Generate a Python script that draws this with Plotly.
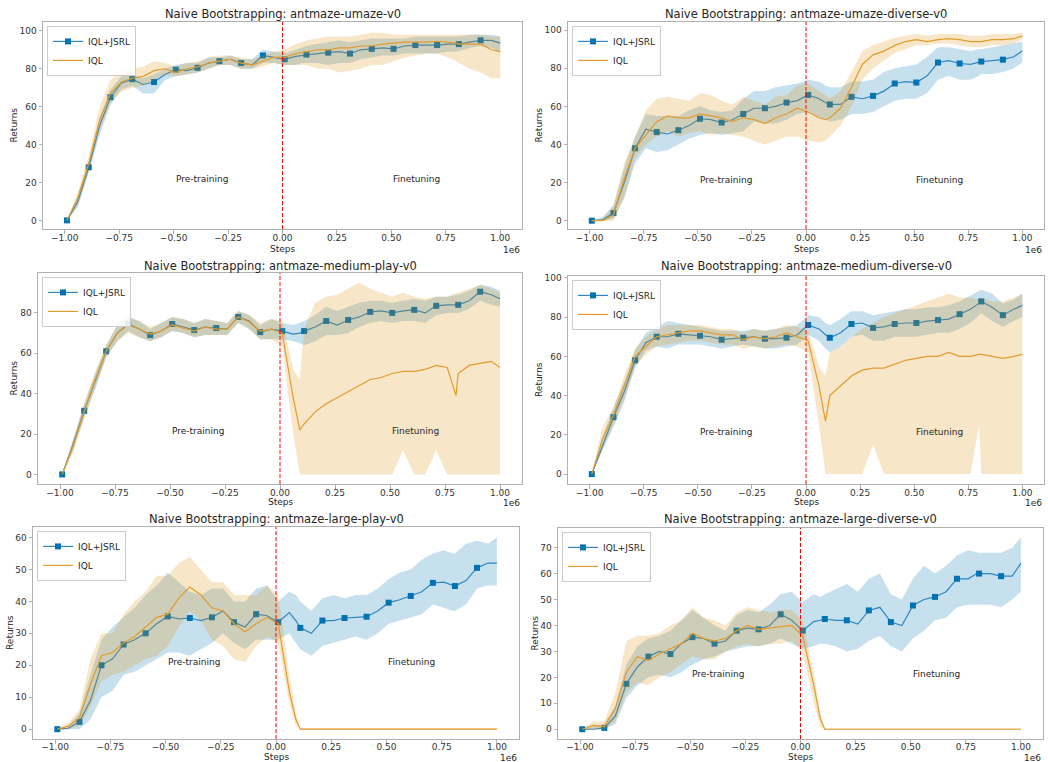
import plotly.graph_objects as go

# ---------------- data ----------------
STEPS = [-0.99, -0.94, -0.89, -0.84, -0.79, -0.74, -0.69, -0.64, -0.59, -0.54,
         -0.49, -0.44, -0.39, -0.34, -0.29, -0.24, -0.19, -0.14, -0.09, -0.04,
         0.01, 0.06, 0.09, 0.11, 0.16, 0.21, 0.26, 0.31, 0.36, 0.41,
         0.46, 0.51, 0.56, 0.61, 0.66, 0.71, 0.76, 0.80, 0.81, 0.86,
         0.91, 0.96, 1.00]

X_TICKS = [-1.0, -0.75, -0.5, -0.25, 0.0, 0.25, 0.5, 0.75, 1.0]
X_TICK_TEXT = ["−1.00", "−0.75", "−0.50", "−0.25", "0.00", "0.25", "0.50", "0.75", "1.00"]

TITLES = ["Naive Bootstrapping: antmaze-umaze-v0",
          "Naive Bootstrapping: antmaze-umaze-diverse-v0",
          "Naive Bootstrapping: antmaze-medium-play-v0",
          "Naive Bootstrapping: antmaze-medium-diverse-v0",
          "Naive Bootstrapping: antmaze-large-play-v0",
          "Naive Bootstrapping: antmaze-large-diverse-v0"]
SERIES = ["IQL+JSRL", "IQL"]
PHASES = ["Pre-training", "Finetuning"]
PHASE_X = [-0.5, 0.5]
PHASE_Y = 20
SWITCH_STEP = 0.0

# umaze
UMAZE_JSRL_MEAN = [0, 10, 28, 50, 65, 72.5, 74.5, 71.7, 73, 77, 79.5, 79, 80.5, 83, 84, 85, 83, 82, 87, 86,
                   85, 86.5, 87, 87.5, 88, 88.5, 89, 88, 90, 90.5, 91, 90.5, 92, 92.5, 92.5, 92.5, 93, 93, 93, 94,
                   95, 95, 93.5]
UMAZE_JSRL_LO = [0, 7, 25, 45, 61, 69, 71, 67, 67, 74, 76, 77, 78, 80, 82, 82, 80, 80, 83, 83,
                 82, 82, 83, 83, 83, 82, 83, 83, 85, 86, 87, 87, 88, 88, 88, 88, 89, 89, 89, 91,
                 92, 91, 89]
UMAZE_JSRL_HI = [0, 13, 31, 54, 69, 76, 77, 75, 77, 80, 82, 83, 83, 86, 86, 87, 85, 85, 90, 89,
                 88, 90, 91, 92, 93, 94, 95, 94, 95, 96, 96, 96, 96, 97, 97, 97, 97, 97, 97, 98,
                 98, 98, 97]
UMAZE_IQL_MEAN = [0, 12, 30, 53, 67, 73, 75, 76, 79, 80, 78, 80, 81, 83, 84, 85, 83, 82, 84, 86,
                  86, 88, 88.5, 89, 90, 90, 91, 91, 92, 92, 93, 93.5, 94, 94, 94, 94.5, 94, 93.5, 93, 93,
                  93, 90, 89]
UMAZE_IQL_LO = [0, 8, 26, 47, 62, 68, 70, 71, 74, 77, 76, 77, 78, 80, 82, 82, 80, 80, 81, 83,
                82, 82, 82, 82, 80, 80, 78, 79, 80, 82, 82, 84, 86, 87, 88, 88, 86, 84, 83, 80,
                78, 75, 75]
UMAZE_IQL_HI = [0, 15, 34, 60, 74, 79, 80, 81, 84, 83, 81, 83, 84, 86, 87, 87, 86, 85, 87, 89,
                90, 93, 94, 95, 96, 97, 97, 97, 98, 99, 99, 98, 98, 98, 98, 98, 98, 98, 98, 98,
                98, 97, 97]

# umaze-diverse
UMAZED_JSRL_MEAN = [0, 0.5, 4, 20, 38, 48, 46.5, 45.5, 47.5, 50, 53.5, 53, 51.5, 53, 56, 59, 59, 60, 62, 63,
                    66, 64, 62, 61, 61, 65, 64, 65.5, 68, 72, 73, 72.5, 76, 83, 84, 82.5, 82, 83, 83.5, 84,
                    84.5, 86, 89]
UMAZED_JSRL_LO = [0, 0, 1, 12, 30, 38, 36, 37, 40, 43, 45, 46, 45, 46, 47, 52, 51, 51, 53, 56,
                  57, 54, 53, 52, 53, 56, 56, 57, 60, 63, 64, 64, 67, 74, 76, 74, 74, 76, 77, 77,
                  78, 80, 83]
UMAZED_JSRL_HI = [0, 2, 8, 28, 44, 56, 55, 55, 55, 58, 60, 58, 57, 58, 64, 68, 68, 70, 71, 72,
                  74, 73, 71, 70, 70, 73, 73, 74, 78, 80, 81, 82, 86, 91, 91, 90, 89, 90, 90, 91,
                  92, 93, 94]
UMAZED_IQL_MEAN = [0, 0, 3, 22, 38, 45, 52, 55, 54, 54, 56, 55, 54, 52, 54, 53, 51, 54, 56, 59,
                   57, 54, 53, 54, 59, 70, 82, 87, 89, 92, 94, 95, 94, 95, 95.5, 95, 94, 94, 94, 95,
                   95, 95.5, 97]
UMAZED_IQL_LO = [0, 0, 0, 12, 33, 40, 44, 47, 44, 46, 47, 45, 46, 45, 44, 42, 40, 42, 44, 44,
                 42, 41, 42, 44, 50, 60, 74, 80, 84, 88, 90, 92, 92, 93, 93, 92, 91, 91, 91, 92,
                 92, 93, 95]
UMAZED_IQL_HI = [0, 1, 8, 30, 44, 58, 64, 65, 64, 63, 67, 66, 63, 61, 65, 63, 61, 65, 66, 71,
                 72, 68, 66, 64, 68, 78, 89, 92, 94, 96, 97, 98, 97, 98, 98, 98, 97, 97, 97, 98,
                 98, 98, 99]

# medium-play
MEDP_JSRL_MEAN = [0, 15, 31.5, 46, 61, 70, 74.5, 72, 69, 71, 74.5, 73, 71.5, 73, 72.5, 72, 78, 76, 70.5, 72,
                  71, 69.5, 70, 71, 73, 76, 74, 76.5, 78, 80.5, 81, 80, 81, 81.5, 80, 83.5, 84, 84, 84, 86,
                  90.5, 89, 87]
MEDP_JSRL_LO = [0, 12, 28, 42, 58, 66, 71, 68, 66, 68, 71, 70, 68, 69, 69, 69, 75, 72, 67, 67,
                67, 66, 65, 64, 66, 69, 69, 70, 73, 75, 76, 75, 76, 76, 75, 79, 80, 80, 80, 82,
                86, 84, 83]
MEDP_JSRL_HI = [0, 18, 35, 50, 64, 74, 78, 76, 72, 75, 78, 77, 75, 77, 76, 75, 81, 79, 74, 77,
                75, 74, 75, 76, 79, 83, 81, 83, 85, 86, 86, 85, 86, 87, 86, 88, 88, 89, 89, 91,
                94, 93, 91]
MEDP_IQL_MEAN = [0, 14, 31, 47, 61, 70, 74, 72, 69.5, 71, 74, 72.5, 71, 73, 72, 72, 78, 75.5, 71, 72,
                 70, 38, 22, 25, 31, 35, 38, 41, 44, 47, 48, 50, 51, 51, 52, 54, 53, 39, 50, 54,
                 55, 56, 53]
MEDP_IQL_LO = [0, 11, 28, 43, 58, 66, 70, 68, 66, 68, 71, 70, 68, 69, 69, 69, 75, 72, 67, 67,
               64, 20, 0, 0, 0, 0, 0, 0, 0, 0, 0, 0, 12, 0, 0, 12, 0, 0, 0, 0,
               0, 0, 0]
MEDP_IQL_HI = [0, 18, 35, 51, 64, 74, 78, 76, 73, 75, 78, 77, 75, 77, 76, 75, 81, 79, 75, 77,
               76, 52, 47, 72, 85, 88, 89, 92, 95, 92, 90, 88, 90, 88, 87, 88, 88, 90, 90, 92,
               94, 92, 90]

# medium-diverse
MEDD_JSRL_MEAN = [0, 15, 29, 42, 58, 67, 70, 70, 71.5, 71, 70.5, 70, 68.5, 69, 69.5, 70, 69, 69, 69.5, 71,
                  76, 74, 71, 69.5, 72, 76.5, 77, 74.5, 75, 76.5, 77, 77, 78, 78.5, 79, 81.5, 84, 87, 88, 85,
                  81, 84, 86]
MEDD_JSRL_LO = [0, 12, 24, 37, 54, 63, 65, 64, 66, 66, 66, 65, 64, 65, 66, 65, 64, 64, 65, 66,
                71, 68, 64, 62, 65, 70, 71, 68, 68, 70, 70, 70, 71, 72, 72, 74, 77, 81, 82, 78,
                75, 78, 80]
MEDD_JSRL_HI = [0, 19, 34, 47, 63, 72, 75, 78, 77, 76, 75, 74, 73, 73, 73, 74, 73, 74, 75, 76,
                81, 80, 77, 76, 79, 83, 83, 81, 82, 83, 84, 84, 85, 85, 86, 88, 91, 93, 94, 92,
                87, 89, 92]
MEDD_IQL_MEAN = [0, 18, 30, 45, 60, 65, 70, 71, 72, 73, 73, 72, 71, 71, 68.5, 70, 69, 70, 72, 70,
                 68, 45, 27, 40, 45, 50, 53, 54, 54, 56, 58, 59, 60, 60, 62, 60, 60, 61, 61, 60,
                 59, 60, 61]
MEDD_IQL_LO = [0, 13, 25, 38, 55, 61, 65, 66, 67, 68, 68, 67, 66, 66, 64, 65, 64, 65, 66, 65,
               62, 25, 0, 0, 0, 0, 0, 15, 0, 0, 0, 0, 0, 0, 0, 0, 0, 25, 0, 0,
               0, 0, 0]
MEDD_IQL_HI = [0, 24, 34, 50, 64, 70, 74, 76, 76, 76, 76, 75, 74, 74, 72, 74, 73, 74, 76, 75,
               73, 55, 50, 62, 65, 70, 74, 77, 80, 82, 84, 86, 88, 90, 92, 90, 90, 89, 90, 88,
               88, 90, 92]

# large-play
LARGEP_JSRL_MEAN = [0, 0.3, 2.3, 9, 20, 22, 26.5, 28, 30, 33, 35.3, 34.5, 34.8, 34, 35, 37, 33.5, 32, 36, 35.5,
                    33.5, 36.5, 34, 31.7, 30, 34, 34, 34.8, 35, 35.2, 37, 39.6, 40.5, 41.7, 43, 45.8, 46, 45, 44.8, 46.5,
                    50.5, 52, 52]
LARGEP_JSRL_LO = [0, 0, 0, 3, 10, 12, 17, 18, 20, 22, 24, 24, 23, 25, 27, 30, 27, 25, 28, 28,
                  28, 30, 27, 25, 23, 26, 27, 28, 29, 28, 30, 33, 34, 35, 36, 39, 38, 37, 37, 39,
                  44, 45, 45]
LARGEP_JSRL_HI = [0, 1, 5, 17, 28, 32, 35, 38, 42, 45, 49, 46, 43, 42, 44, 44, 40, 40, 44, 45,
                  40, 43, 42, 40, 37, 41, 42, 41, 42, 42, 44, 47, 49, 50, 53, 55, 56, 55, 55, 58,
                  59, 58, 60]
LARGEP_IQL_MEAN = [0, 1, 3.5, 14, 23, 24, 27, 29, 32, 35, 36, 41, 44.5, 42, 38, 37, 33, 30.5, 33, 35,
                   33, 12, 3, 0, 0, 0, 0, 0, 0, 0, 0, 0, 0, 0, 0, 0, 0, 0, 0, 0,
                   0, 0, 0]
LARGEP_IQL_LO = [0, 0, 1, 7, 15, 17, 18, 20, 22, 23, 26, 32, 37, 34, 28, 26, 22, 21, 26, 29,
                 27, 8, 1, 0, 0, 0, 0, 0, 0, 0, 0, 0, 0, 0, 0, 0, 0, 0, 0, 0,
                 0, 0, 0]
LARGEP_IQL_HI = [0, 2, 6, 22, 30, 30, 36, 40, 43, 48, 48, 52, 54, 50, 46, 46, 42, 42, 42, 45,
                 42, 17, 5, 0.4, 0.4, 0.4, 0.4, 0.4, 0.4, 0.4, 0.4, 0.4, 0.4, 0.4, 0.4, 0.4, 0.4, 0.4, 0.4, 0.4,
                 0.4, 0.4, 0.4]

# large-diverse
LARGED_JSRL_MEAN = [0, 0, 0.5, 5, 17.5, 24, 28, 30, 29, 33, 35.5, 35, 33, 34, 38, 39, 38.5, 40, 44.3, 42,
                    38, 41.5, 42, 42.5, 42, 42, 40.5, 45.8, 47, 41.3, 40, 47.7, 50, 51, 53, 58, 58, 60, 60, 60,
                    59, 59, 64]
LARGED_JSRL_LO = [0, 0, 0, 2, 12, 17, 20, 21, 20, 22, 25, 27, 28, 30, 31, 32, 32, 33, 35, 33,
                  31, 32, 33, 33, 32, 30, 31, 34, 36, 32, 30, 35, 38, 42, 43, 47, 48, 48, 48, 48,
                  47, 50, 53]
LARGED_JSRL_HI = [0, 1, 2, 9, 25, 32, 35, 36, 38, 42, 46, 43, 40, 38, 44, 46, 45, 48, 52, 53,
                  49, 52, 51, 52, 54, 56, 53, 58, 60, 52, 50, 58, 63, 60, 63, 67, 69, 68, 68, 68,
                  68, 70, 74]
LARGED_IQL_MEAN = [0, 1.5, 1, 8, 22, 28, 26.5, 29, 31, 33, 37, 35, 34, 35, 38, 40, 38.5, 39, 39.5, 40,
                   36, 17, 4, 0, 0, 0, 0, 0, 0, 0, 0, 0, 0, 0, 0, 0, 0, 0, 0, 0,
                   0, 0, 0]
LARGED_IQL_LO = [0, 0, 0, 3, 14, 18, 17, 20, 22, 25, 28, 27, 27, 30, 32, 33, 32, 33, 33, 34,
                 30, 10, 1, 0, 0, 0, 0, 0, 0, 0, 0, 0, 0, 0, 0, 0, 0, 0, 0, 0,
                 0, 0, 0]
LARGED_IQL_HI = [0, 3, 3, 14, 34, 36, 36, 37, 40, 42, 47, 43, 42, 40, 45, 47, 46, 45, 46, 46,
                 42, 22, 6, 0.4, 0.4, 0.4, 0.4, 0.4, 0.4, 0.4, 0.4, 0.4, 0.4, 0.4, 0.4, 0.4, 0.4, 0.4, 0.4, 0.4,
                 0.4, 0.4, 0.4]

Y_RANGES = [[-4.6, 104.7], [-4.4, 104.3], [-4.8, 99.8], [-5.1, 101.0], [-3.1, 63.3], [-3.8, 77.6]]
Y_DTICK = [20, 20, 20, 20, 10, 10]

DATA = [
    ((UMAZE_JSRL_MEAN, UMAZE_JSRL_LO, UMAZE_JSRL_HI), (UMAZE_IQL_MEAN, UMAZE_IQL_LO, UMAZE_IQL_HI)),
    ((UMAZED_JSRL_MEAN, UMAZED_JSRL_LO, UMAZED_JSRL_HI), (UMAZED_IQL_MEAN, UMAZED_IQL_LO, UMAZED_IQL_HI)),
    ((MEDP_JSRL_MEAN, MEDP_JSRL_LO, MEDP_JSRL_HI), (MEDP_IQL_MEAN, MEDP_IQL_LO, MEDP_IQL_HI)),
    ((MEDD_JSRL_MEAN, MEDD_JSRL_LO, MEDD_JSRL_HI), (MEDD_IQL_MEAN, MEDD_IQL_LO, MEDD_IQL_HI)),
    ((LARGEP_JSRL_MEAN, LARGEP_JSRL_LO, LARGEP_JSRL_HI), (LARGEP_IQL_MEAN, LARGEP_IQL_LO, LARGEP_IQL_HI)),
    ((LARGED_JSRL_MEAN, LARGED_JSRL_LO, LARGED_JSRL_HI), (LARGED_IQL_MEAN, LARGED_IQL_LO, LARGED_IQL_HI)),
]
for pair in DATA:
    for s in pair:
        for arr in s:
            assert len(arr) == len(STEPS), len(arr)

# ---------------- layout (pixel boxes: left, right, top, bottom) ----------------
W, H = 1048, 762
BOXES = [(43, 522, 19, 227), (568, 1044, 19, 227),
         (38, 522, 271, 483), (568, 1044, 274, 483),
         (33, 519, 526, 739), (558, 1043, 527, 739)]
YLABEL_OFFSET = [29, 29, 24, 29, 23, 23]
TITLE_Y = [11, 11, 264, 264, 518, 518]
XLABEL_Y = [247, 247, 501, 501, 757, 757]
TICK_STANDOFF = [-3, -3, -3, -3, -4, -4]

FONT = "DejaVu Sans"
BLUE = "#0173b2"
BLUE_LINE = "#2f86c0"
BLUE_FILL = "rgba(1,115,178,0.22)"
ORANGE_LINE = "#e39b2c"
ORANGE_FILL = "rgba(222,143,5,0.22)"
SPINE = "#b0b0b0"
TXT = "#262626"
TICKTXT = "#333333"

def px(x):
    return x / W

def py(y):
    return 1 - y / H

mark_idx = [i for i, s in enumerate(STEPS) if round((s + 0.99) * 100) % 10 == 0]

fig = go.Figure()
annotations = []
shapes = []
layout = {}

for i, (box, (jsrl, iql)) in enumerate(zip(BOXES, DATA)):
    n = i + 1
    xa = "x" if n == 1 else f"x{n}"
    ya = "y" if n == 1 else f"y{n}"
    leg = "legend" if n == 1 else f"legend{n}"
    L, R, T, B = box

    # JSRL band + line + markers
    m, lo, hi = jsrl
    fig.add_trace(go.Scatter(x=STEPS + STEPS[::-1], y=hi + lo[::-1], fill="toself",
                             fillcolor=BLUE_FILL, line=dict(width=0), mode="lines",
                             hoverinfo="skip", showlegend=False, xaxis=xa, yaxis=ya))
    fig.add_trace(go.Scatter(x=STEPS, y=m, mode="lines", line=dict(color=BLUE_LINE, width=1.2),
                             showlegend=False, xaxis=xa, yaxis=ya))
    fig.add_trace(go.Scatter(x=[STEPS[k] for k in mark_idx], y=[m[k] for k in mark_idx],
                             mode="markers", marker=dict(symbol="square", size=6, color=BLUE),
                             showlegend=False, xaxis=xa, yaxis=ya))
    # IQL band + line
    m2, lo2, hi2 = iql
    fig.add_trace(go.Scatter(x=STEPS + STEPS[::-1], y=hi2 + lo2[::-1], fill="toself",
                             fillcolor=ORANGE_FILL, line=dict(width=0), mode="lines",
                             hoverinfo="skip", showlegend=False, xaxis=xa, yaxis=ya))
    # legend entries
    fig.add_trace(go.Scatter(x=[None], y=[None], mode="lines+markers", name=SERIES[0],
                             line=dict(color=BLUE_LINE, width=1.2),
                             marker=dict(symbol="square", size=6, color=BLUE),
                             legend=leg, xaxis=xa, yaxis=ya))
    fig.add_trace(go.Scatter(x=STEPS, y=m2, mode="lines", name=SERIES[1],
                             line=dict(color=ORANGE_LINE, width=1.2),
                             legend=leg, xaxis=xa, yaxis=ya))

    axis_common = dict(showline=True, mirror=True, linecolor=SPINE, linewidth=1,
                       ticks="outside", ticklen=3.5, tickwidth=1, tickcolor=SPINE,
                       showgrid=False, zeroline=False,
                       tickfont=dict(family=FONT, size=9, color=TICKTXT))
    layout["xaxis" if n == 1 else f"xaxis{n}"] = dict(
        domain=[px(L), px(R)], anchor=ya, range=[-1.1, 1.1],
        tickmode="array", tickvals=X_TICKS, ticktext=X_TICK_TEXT,
        ticklabelstandoff=TICK_STANDOFF[i], **axis_common)
    layout["yaxis" if n == 1 else f"yaxis{n}"] = dict(
        domain=[py(B), py(T)], anchor=xa, range=Y_RANGES[i],
        tickmode="linear", tick0=0, dtick=Y_DTICK[i], **axis_common)

    layout[leg] = dict(x=px(L + 4), y=py(T + 4), xanchor="left", yanchor="top",
                       bgcolor="rgba(255,255,255,0.85)", bordercolor="#cccccc", borderwidth=1,
                       font=dict(family=FONT, size=9, color=TXT), itemwidth=30,
                       tracegroupgap=0)

    # red dashed divider at the pre-training / finetuning switch
    shapes.append(dict(type="line", xref=xa, yref="paper", x0=SWITCH_STEP, x1=SWITCH_STEP,
                       y0=py(B), y1=py(T), layer="above",
                       line=dict(color="#ff0000", width=1, dash="4px,2px")))

    # texts
    annotations.append(dict(text=TITLES[i], x=px((L + R) / 2), y=py(TITLE_Y[i]), xref="paper",
                            yref="paper", showarrow=False, xanchor="center", yanchor="middle",
                            font=dict(family=FONT, size=11.5, color=TXT)))
    annotations.append(dict(text="Returns", x=px(L - YLABEL_OFFSET[i]), y=py((T + B) / 2),
                            xref="paper", yref="paper", showarrow=False, textangle=-90,
                            xanchor="center", yanchor="middle",
                            font=dict(family=FONT, size=9, color=TXT)))
    annotations.append(dict(text="Steps", x=px((L + R) / 2), y=py(XLABEL_Y[i]), xref="paper",
                            yref="paper", showarrow=False, xanchor="center", yanchor="middle",
                            font=dict(family=FONT, size=9, color=TXT)))
    annotations.append(dict(text="1e6", x=px(R), y=py(XLABEL_Y[i] + 0.5), xref="paper",
                            yref="paper", showarrow=False, xanchor="right", yanchor="middle",
                            font=dict(family=FONT, size=9, color=TXT)))
    for ph, phx in zip(PHASES, PHASE_X):
        annotations.append(dict(text=ph, x=phx, y=PHASE_Y, xref=xa, yref=ya, showarrow=False,
                                xanchor="left", yanchor="middle", yshift=3,
                                font=dict(family=FONT, size=9, color=TXT)))

fig.update_layout(width=W, height=H, autosize=False,
                  margin=dict(l=0, r=0, t=0, b=0),
                  paper_bgcolor="white", plot_bgcolor="white",
                  font=dict(family=FONT, size=9, color=TXT),
                  annotations=annotations, shapes=shapes, **layout)

fig.write_html("out.html", config={"displayModeBar": False},
               post_script="document.body.style.margin='0';document.body.style.overflow='hidden';")
